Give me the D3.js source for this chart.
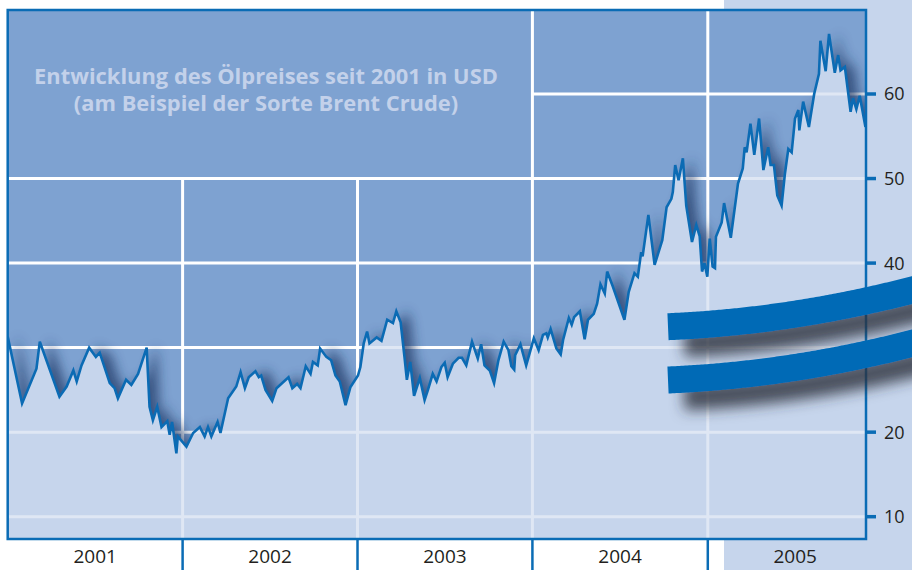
<!DOCTYPE html>
<html><head><meta charset="utf-8">
<script src="https://cdn.jsdelivr.net/npm/d3@7"></script>
<style>body{margin:0;background:#fff}svg{display:block}</style>
</head><body>
<svg id="chart" width="912" height="570"></svg>
<script>
// ---------- data ----------
const dates = [
"2001-01-01","2001-01-31","2001-03-02","2001-03-09","2001-04-19","2001-05-04","2001-05-18","2001-05-25","2001-06-04","2001-06-20",
"2001-07-04","2001-07-12","2001-08-02","2001-08-12","2001-08-19","2001-09-05","2001-09-16","2001-09-30","2001-10-18","2001-10-24",
"2001-10-31","2001-11-09","2001-11-18","2001-11-30","2001-12-05","2001-12-10","2001-12-19","2001-12-22",
"2002-01-09","2002-01-23","2002-02-06","2002-02-16","2002-02-23","2002-03-02","2002-03-15","2002-03-21","2002-04-06","2002-04-23",
"2002-05-02","2002-05-11","2002-05-19","2002-06-02","2002-06-09","2002-06-14","2002-06-23","2002-07-07","2002-07-16","2002-08-10",
"2002-08-18","2002-08-28","2002-09-04","2002-09-15","2002-09-25","2002-09-30","2002-10-10","2002-10-15","2002-10-28","2002-11-07",
"2002-11-16","2002-11-25","2002-12-07","2002-12-17",
"2003-01-02","2003-01-07","2003-01-14","2003-01-21","2003-01-26","2003-02-10","2003-02-20","2003-03-04","2003-03-16","2003-03-23",
"2003-04-01","2003-04-09","2003-04-14","2003-04-21","2003-04-29","2003-05-11","2003-05-21","2003-05-28","2003-06-07","2003-06-15",
"2003-06-25","2003-07-02","2003-07-08","2003-07-19","2003-07-31","2003-08-07","2003-08-16","2003-08-28","2003-09-09","2003-09-16",
"2003-09-23","2003-10-04","2003-10-13","2003-10-22","2003-11-02","2003-11-12","2003-11-18","2003-11-24","2003-11-26","2003-12-07",
"2003-12-19",
"2004-01-04","2004-01-14","2004-01-23","2004-01-30","2004-02-02","2004-02-08","2004-02-20","2004-02-29","2004-03-05","2004-03-17",
"2004-03-23","2004-03-28","2004-04-09","2004-04-19","2004-04-26","2004-05-08","2004-05-15","2004-05-22","2004-05-31","2004-06-05",
"2004-06-17","2004-07-11","2004-07-20","2004-08-01","2004-08-08","2004-08-15","2004-08-18","2004-08-30","2004-09-12","2004-09-28",
"2004-10-07","2004-10-17","2004-10-20","2004-10-25","2004-11-01","2004-11-10","2004-11-17","2004-11-29","2004-12-08","2004-12-15",
"2004-12-20","2004-12-25","2004-12-31",
"2005-01-05","2005-01-11","2005-01-16","2005-01-18","2005-01-30","2005-02-04","2005-02-18","2005-03-05","2005-03-15","2005-03-19",
"2005-03-23","2005-03-31","2005-04-08","2005-04-18","2005-04-27","2005-05-07","2005-05-12","2005-05-19","2005-05-26","2005-06-04",
"2005-06-11","2005-06-18","2005-06-25","2005-07-02","2005-07-09","2005-07-11","2005-07-19","2005-07-31","2005-08-11","2005-08-21",
"2005-08-24","2005-09-04","2005-09-11","2005-09-23","2005-09-30","2005-10-05","2005-10-14","2005-10-26","2005-10-31","2005-11-07",
"2005-11-14","2005-11-26"
];
const prices = [
31.3,23.4,27.5,30.7,24.2,25.4,27.3,26.0,27.9,30.0,
28.9,29.4,25.8,25.2,24.0,26.2,25.6,26.9,30.0,23.0,
21.4,23.0,20.6,21.3,19.7,21.2,17.5,19.5,
18.3,19.9,20.6,19.5,20.6,19.5,21.2,19.9,24.0,25.4,
27.1,25.2,26.5,27.2,26.5,26.7,25.0,23.7,25.2,26.5,
25.2,25.7,25.2,27.8,26.9,28.3,27.9,29.9,28.9,28.5,
26.7,26.0,23.2,25.3,
26.7,27.7,30.5,31.9,30.5,31.2,30.8,33.3,32.9,34.3,
33.0,28.9,26.2,28.3,24.3,26.4,23.8,25.0,26.9,26.0,
27.7,28.2,26.5,28.1,28.8,28.8,27.9,30.7,28.7,30.4,
27.9,27.3,25.8,28.5,30.7,29.7,27.8,27.4,29.1,30.4,
27.9,
31.1,29.7,31.5,31.7,31.2,32.2,29.9,29.2,30.9,33.5,
32.7,33.6,34.3,31.0,33.3,34.0,35.2,37.5,36.4,39.0,
37.2,33.3,36.6,38.8,38.4,41.3,40.8,45.7,39.8,42.7,
46.6,47.6,48.4,51.6,49.8,52.4,46.8,42.5,44.5,43.2,
39.0,40.0,38.4,
42.9,39.6,39.4,43.1,44.8,47.1,43.0,49.4,51.2,53.7,
53.1,56.5,52.8,57.1,51.0,53.7,51.6,51.6,48.0,46.8,
50.6,53.5,53.1,57.1,58.1,55.7,59.1,56.1,60.0,62.4,
66.3,62.7,67.1,62.5,64.6,62.8,63.2,57.9,59.5,58.2,
59.8,56.1
];
const yearLabels = ["2001","2002","2003","2004","2005"];
const yTickValues = [10,20,30,40,50,60];
const titleLines = ["Entwicklung des Ölpreises seit 2001 in USD","(am Beispiel der Sorte Brent Crude)"];

// ---------- layout ----------
const W = 912, H = 570;
const plotLeft = 7.7, plotRight = 866, plotTop = 10, plotBottom = 539;
const panelX = 724;
const C = {dark:"#7ea2d1", light:"#c6d5ec", line:"#0b6bb4", frame:"#0a6cb5", swoosh:"#006bb6", text:"#231f20", title:"#c3d1ea"};

const parse = d3.utcParse("%Y-%m-%d");
const data = dates.map((d,i)=>({date:parse(d), v:prices[i]}));
const years = yearLabels.map(y=>parse(y+"-01-01"));

const x = d3.scaleUtc().domain([parse("2001-01-01"), parse("2006-01-01")]).range([plotLeft, plotLeft+875]);
const y = d3.scaleLinear().domain([10,60]).range([516.7, 94]);

const svg = d3.select("#chart");
const defs = svg.append("defs");
defs.append("clipPath").attr("id","plotClip").append("rect")
  .attr("x",plotLeft).attr("y",plotTop).attr("width",plotRight-plotLeft).attr("height",plotBottom-plotTop);
const area = d3.area().x(d=>x(d.date)).y0(plotBottom).y1(d=>y(d.v));
const line = d3.line().x(d=>x(d.date)).y(d=>y(d.v));
defs.append("clipPath").attr("id","areaClip").append("path").attr("d",area(data));
const fb = defs.append("filter").attr("id","blur").attr("x","-20%").attr("y","-20%").attr("width","140%").attr("height","140%");
fb.append("feGaussianBlur").attr("stdDeviation",6);
const fs = defs.append("filter").attr("id","swShadow").attr("x","-20%").attr("y","-60%").attr("width","150%").attr("height","300%");
fs.append("feDropShadow").attr("dx",16).attr("dy",17).attr("stdDeviation",7)
  .attr("flood-color","#2a2e3a").attr("flood-opacity",0.8);

// backgrounds
svg.append("rect").attr("width",W).attr("height",H).attr("fill","#fff");
svg.append("rect").attr("x",panelX).attr("y",0).attr("width",W-panelX).attr("height",H).attr("fill",C.light);

const plot = svg.append("g").attr("clip-path","url(#plotClip)");
plot.append("rect").attr("x",plotLeft).attr("y",plotTop).attr("width",plotRight-plotLeft).attr("height",plotBottom-plotTop).attr("fill",C.dark);

function grid(g, color, width){
  const hx0 = v => v===60 ? x(years[3]) : plotLeft;
  g.selectAll("line.h").data(yTickValues).join("line").attr("class","h")
    .attr("x1",d=>hx0(d)).attr("x2",plotRight).attr("y1",d=>y(d)).attr("y2",d=>y(d))
    .attr("stroke",color).attr("stroke-width",width);
  g.selectAll("line.v").data(years.slice(1)).join("line").attr("class","v")
    .attr("x1",d=>x(d)).attr("x2",d=>x(d))
    .attr("y1",(d,i)=> i<2 ? y(50) : plotTop).attr("y2",plotBottom)
    .attr("stroke",color).attr("stroke-width",width);
}
grid(plot.append("g"), "#ffffff", 3);

// shadow of the light mountain
plot.append("path").attr("d",area(data)).attr("fill","#1a3562").attr("opacity",0.7)
  .attr("transform","translate(10,-2)").attr("filter","url(#blur)");
plot.append("path").attr("d",area(data)).attr("fill",C.light);
grid(plot.append("g").attr("clip-path","url(#areaClip)"), "#dfe7f4", 3);
plot.append("path").attr("d",line(data)).attr("fill","none").attr("stroke",C.line)
  .attr("stroke-width",2.6).attr("stroke-linejoin","miter");

// frame
svg.append("rect").attr("x",plotLeft).attr("y",plotTop).attr("width",plotRight-plotLeft).attr("height",plotBottom-plotTop)
  .attr("fill","none").attr("stroke",C.frame).attr("stroke-width",2.5);

// right axis
const ra = svg.append("g");
ra.selectAll("line").data(yTickValues).join("line")
  .attr("x1",plotRight).attr("x2",plotRight+10).attr("y1",d=>y(d)).attr("y2",d=>y(d))
  .attr("stroke",C.frame).attr("stroke-width",3.5);
ra.selectAll("text").data(yTickValues).join("text")
  .attr("x",plotRight+18).attr("y",d=>y(d)).attr("dy","0.36em")
  .attr("font-family","'Open Sans', sans-serif").attr("font-size",18).attr("fill",C.text)
  .text(d=>d);

// bottom axis
const ba = svg.append("g");
ba.selectAll("line").data(years.slice(1)).join("line")
  .attr("x1",d=>x(d)).attr("x2",d=>x(d)).attr("y1",plotBottom).attr("y2",H)
  .attr("stroke",C.frame).attr("stroke-width",2.5);
ba.selectAll("text").data(yearLabels).join("text")
  .attr("x",(d,i)=> (x(years[i]) + x(d3.utcYear.offset(years[i],1)))/2)
  .attr("y",563).attr("text-anchor","middle")
  .attr("font-family","'Open Sans', sans-serif").attr("font-size",19).attr("fill",C.text)
  .text(d=>d);

// swooshes (decoration)
const sw = svg.append("g").attr("filter","url(#swShadow)");
[326.7, 380].forEach(y0=>{
  const pts = d3.range(0, 272, 2).map(dx=>[668+dx, y0 - 0.0427*dx - 0.00044*dx*dx]);
  sw.append("path").attr("d", d3.line()(pts)).attr("fill","none")
    .attr("stroke",C.swoosh).attr("stroke-width",27).attr("stroke-linecap","butt");
});

// title, sized so the first line spans the reference width
const tt = svg.append("g");
const titleTexts = titleLines.map((t,i)=>
  tt.append("text").attr("x",266).attr("y",84+i*26.5).attr("text-anchor","middle")
    .attr("font-family","'Open Sans', sans-serif").attr("font-weight","bold").attr("font-size",18.5)
    .attr("fill",C.title).text(t));
const w0 = titleTexts[0].node().getComputedTextLength();
const fsz = 18.5 * 464 / w0;
titleTexts.forEach(t=>t.attr("font-size",fsz));
</script>
</body></html>
